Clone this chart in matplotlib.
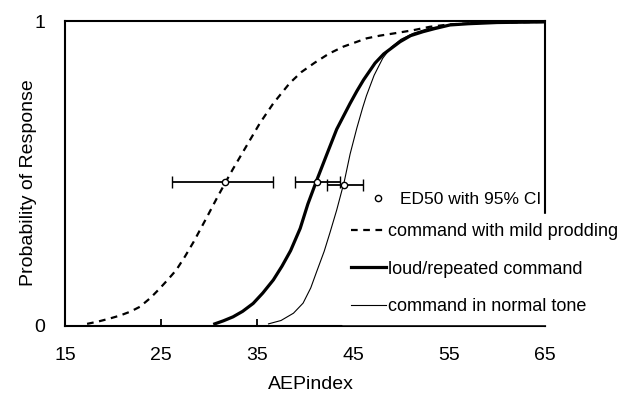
import matplotlib
matplotlib.use('Agg')
import matplotlib.pyplot as plt
from matplotlib.lines import Line2D

plt.rcParams['font.family'] = ['Liberation Sans', 'DejaVu Sans']

# curve points (AEPindex, probability)
mild_x = [17.3, 18.5, 19.6, 20.7, 21.8, 22.8, 23.9, 24.9, 25.8, 26.6, 27.5, 28.4, 29.8,
          30.8, 31.7, 32.5, 33.9, 35.3, 36.7, 38.4, 39.6, 41.0, 42.5, 44.0, 46.4,
          47.8, 49.2, 51.3, 53.0, 55.1, 57.5, 60.0, 65.0]
mild_y = [0.007, 0.015, 0.024, 0.034, 0.047, 0.063, 0.092, 0.124, 0.155, 0.184, 0.228, 0.276, 0.358,
          0.418, 0.470, 0.515, 0.590, 0.665, 0.730, 0.796, 0.832, 0.863, 0.893, 0.916, 0.943,
          0.952, 0.959, 0.970, 0.981, 0.989, 0.993, 0.995, 0.997]

loud_x = [30.6, 31.5, 32.5, 33.5, 34.6, 35.6, 36.7, 37.6, 38.5, 39.5, 40.3, 41.2, 42.3,
          43.3, 44.7, 45.4, 46.1, 47.3, 48.2, 49.9, 51.0, 52.3, 53.5, 55.1, 57.0, 60.0, 65.0]
loud_y = [0.007, 0.017, 0.030, 0.048, 0.074, 0.108, 0.151, 0.196, 0.247, 0.320, 0.400, 0.476, 0.565,
          0.645, 0.730, 0.770, 0.807, 0.862, 0.892, 0.932, 0.952, 0.965, 0.975, 0.987, 0.991, 0.995, 0.997]

normal_x = [36.2, 37.5, 38.8, 39.8, 40.6, 41.2, 42.0, 42.6, 43.3, 44.1, 44.7, 45.4,
            46.0, 46.4, 47.2, 48.1, 49.0, 50.0, 51.3, 53.0, 55.1, 60.0, 65.0]
normal_y = [0.007, 0.018, 0.042, 0.075, 0.125, 0.177, 0.245, 0.306, 0.380, 0.475, 0.564, 0.649,
            0.715, 0.755, 0.822, 0.878, 0.915, 0.940, 0.960, 0.977, 0.987, 0.995, 0.997]

# ED50 with 95% CI (mild, loud, normal)
ed50_x = [31.7, 41.3, 44.1]
ed50_y = [0.473, 0.473, 0.462]
ci_lo = [26.1, 39.0, 42.25]
ci_hi = [36.7, 43.65, 46.0]

x_ticks = [15, 25, 35, 45, 55, 65]
y_ticks = [0, 1]

fig = plt.figure(figsize=(6.2, 3.98), dpi=100)
ax = fig.add_axes([65 / 620, 1 - 326 / 398, 480 / 620, 305 / 398])

ax.plot(mild_x, mild_y, color='black', lw=1.6, ls=(0, (3, 2.5)))
ax.plot(loud_x, loud_y, color='black', lw=2.3)
ax.plot(normal_x, normal_y, color='black', lw=0.8)

err_lo = [x - lo for x, lo in zip(ed50_x, ci_lo)]
err_hi = [hi - x for x, hi in zip(ed50_x, ci_hi)]
ax.errorbar(ed50_x, ed50_y, xerr=[err_lo, err_hi], fmt='o', color='black',
            mfc='white', mec='black', ms=4.5, mew=1.0, elinewidth=1.3,
            capsize=4.6, capthick=1.3, zorder=3)

ax.set_xlim(15, 65)
ax.set_ylim(0, 1)
ax.set_xticks(x_ticks)
ax.set_yticks(y_ticks)
ax.set_yticklabels(['0', '1'])
ax.tick_params(axis='x', direction='in', length=5, width=1.3, pad=15, labelsize=14)
ax.tick_params(axis='y', direction='in', length=0, pad=14, labelsize=14)
for s in ax.spines.values():
    s.set_linewidth(1.5)

ax.set_xlabel('AEPindex', fontsize=14)
ax.set_ylabel('Probability of Response', fontsize=14)
ax.xaxis.set_label_coords(0.513, -0.165)
ax.yaxis.set_label_coords(-0.058, 0.47)

# ED50 legend entry (no background)
h_ed = Line2D([], [], ls='none', marker='o', mfc='white', mec='black', ms=4.5, mew=1.0)
leg1 = ax.legend([h_ed], ['ED50 with 95% CI'], loc='upper left',
                 bbox_to_anchor=(361 / 620, 1 - 183 / 398), bbox_transform=fig.transFigure,
                 frameon=False, fontsize=12.5, handlelength=1.0, handletextpad=0.75,
                 borderpad=0.5, borderaxespad=0)
ax.add_artist(leg1)

h_mild = Line2D([], [], color='black', lw=1.6, ls=(0, (3, 2.5)))
h_loud = Line2D([], [], color='black', lw=2.3)
h_norm = Line2D([], [], color='black', lw=0.8)
leg2 = ax.legend([h_mild, h_loud, h_norm],
                 ['command with mild prodding', 'loud/repeated command', 'command in normal tone'],
                 loc='upper left', bbox_to_anchor=(342 / 620, 1 - 214 / 398),
                 bbox_transform=fig.transFigure, frameon=True, fancybox=False,
                 facecolor='white', edgecolor='white', framealpha=1, fontsize=13,
                 handlelength=1.95, handletextpad=0.1, labelspacing=1.14,
                 borderpad=0.5, borderaxespad=0)
leg2.set_zorder(5)

fig.savefig('out.png', dpi=100)
